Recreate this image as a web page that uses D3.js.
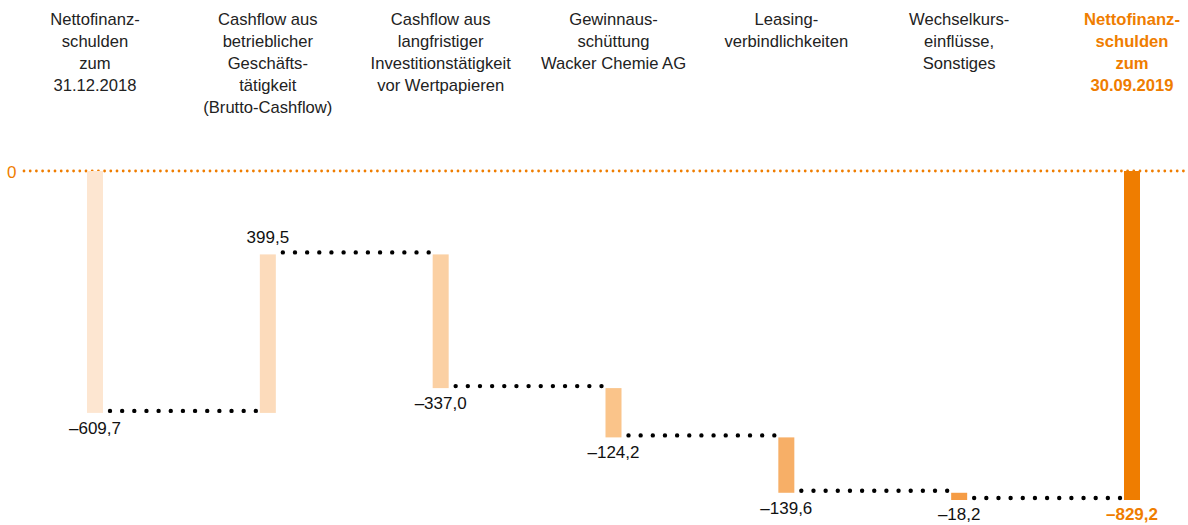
<!DOCTYPE html>
<meta charset="utf-8">
<style>
    body { margin: 0; background: #fff; }
    text { font-family: "Liberation Sans", Arial, sans-serif; }
    .head { font-size: 16.6px; fill: #222; }
    .head.total { fill: #ef7d00; font-weight: bold; }
    .val { font-size: 17px; fill: #111; }
    .val.total { fill: #ef7d00; font-weight: bold; }
</style>
<body>
<svg width="1188" height="525"></svg>
<script src="https://d3js.org/d3.v7.min.js"></script>
<script>
    // categories (header lines)
    var categories = [
        ["Nettofinanz-", "schulden", "zum", "31.12.2018"],
        ["Cashflow aus", "betrieblicher", "Geschäfts-", "tätigkeit", "(Brutto-Cashflow)"],
        ["Cashflow aus", "langfristiger", "Investitionstätigkeit", "vor Wertpapieren"],
        ["Gewinnaus-", "schüttung", "Wacker Chemie AG"],
        ["Leasing-", "verbindlichkeiten"],
        ["Wechselkurs-", "einflüsse,", "Sonstiges"],
        ["Nettofinanz-", "schulden", "zum", "30.09.2019"]
    ];
    var values = [-609.7, 399.5, -337.0, -124.2, -139.6, -18.2, -829.2];
    var valueLabels = ["–609,7", "399,5", "–337,0", "–124,2", "–139,6", "–18,2", "–829,2"];
    var colors = ["#fde6d1", "#fcdbbb", "#fbd0a3", "#fac48a", "#f7af67", "#f59c45", "#ef7d00"];

    var svg = d3.select("svg");

    var x = d3.scalePoint()
            .domain(d3.range(values.length))
            .range([95, 1132]);
    var y = d3.scaleLinear()
            .domain([0, -829.2])
            .range([171, 500]);
    var barW = 16;

    // running totals -> start / end of each bar
    var bars = [];
    var run = 0;
    values.forEach(function (v, i) {
        var last = i === values.length - 1;
        var from, to;
        if (i === 0 || last) { from = 0; to = v; run = v; }
        else { from = run; to = run + v; run = to; }
        bars.push({i: i, from: from, to: to, v: v, last: last});
    });

    // zero line
    svg.append("text")
            .attr("x", 7).attr("y", 178)
            .style("font-size", "17px").style("fill", "#ef7d00")
            .text("0");
    svg.append("line")
            .attr("x1", 24).attr("x2", 1188)
            .attr("y1", y(0)).attr("y2", y(0))
            .attr("stroke", "#ef7d00")
            .attr("stroke-width", 2.8)
            .attr("stroke-linecap", "round")
            .attr("stroke-dasharray", "0,6.2");

    // dotted connectors
    bars.slice(0, -1).forEach(function (d, k) {
        var nx = bars[k + 1];
        var x1 = x(d.i) + barW / 2 + 7,
            x2 = x(nx.i) - barW / 2 - 4,
            len = x2 - x1,
            n = Math.round(len / 12);
        svg.append("line")
                .attr("x1", x1).attr("x2", x2 + 0.5)
                .attr("y1", y(d.to) - 2).attr("y2", y(d.to) - 2)
                .attr("stroke", "#000")
                .attr("stroke-width", 4.4)
                .attr("stroke-linecap", "round")
                .attr("stroke-dasharray", "0," + (len / n));
    });

    // bars
    svg.selectAll(".bar")
            .data(bars)
            .enter().append("rect")
            .attr("class", "bar")
            .attr("x", function (d) { return x(d.i) - barW / 2; })
            .attr("y", function (d) { return y(Math.max(d.from, d.to)); })
            .attr("width", barW)
            .attr("height", function (d) { return Math.abs(y(d.to) - y(d.from)); })
            .style("fill", function (d, i) { return colors[i]; });

    // value labels
    svg.selectAll(".val")
            .data(bars)
            .enter().append("text")
            .attr("class", function (d) { return "val" + (d.last ? " total" : ""); })
            .attr("x", function (d) { return x(d.i); })
            .attr("y", function (d) {
                return d.v > 0 ? y(d.to) - 11 : Math.min(y(Math.min(d.from, d.to)) + 21, 520);
            })
            .style("text-anchor", "middle")
            .text(function (d, i) { return valueLabels[i]; });

    // category headers
    var head = svg.selectAll(".head")
            .data(categories)
            .enter().append("text")
            .attr("class", function (d, i) { return "head" + (i === categories.length - 1 ? " total" : ""); })
            .style("text-anchor", "middle");
    head.selectAll("tspan")
            .data(function (d, i) { return d.map(function (t) { return {t: t, i: i}; }); })
            .enter().append("tspan")
            .attr("x", function (d) { return x(d.i); })
            .attr("y", function (d, j) { return 25 + j * 22; })
            .text(function (d) { return d.t; });
</script>
</body>
